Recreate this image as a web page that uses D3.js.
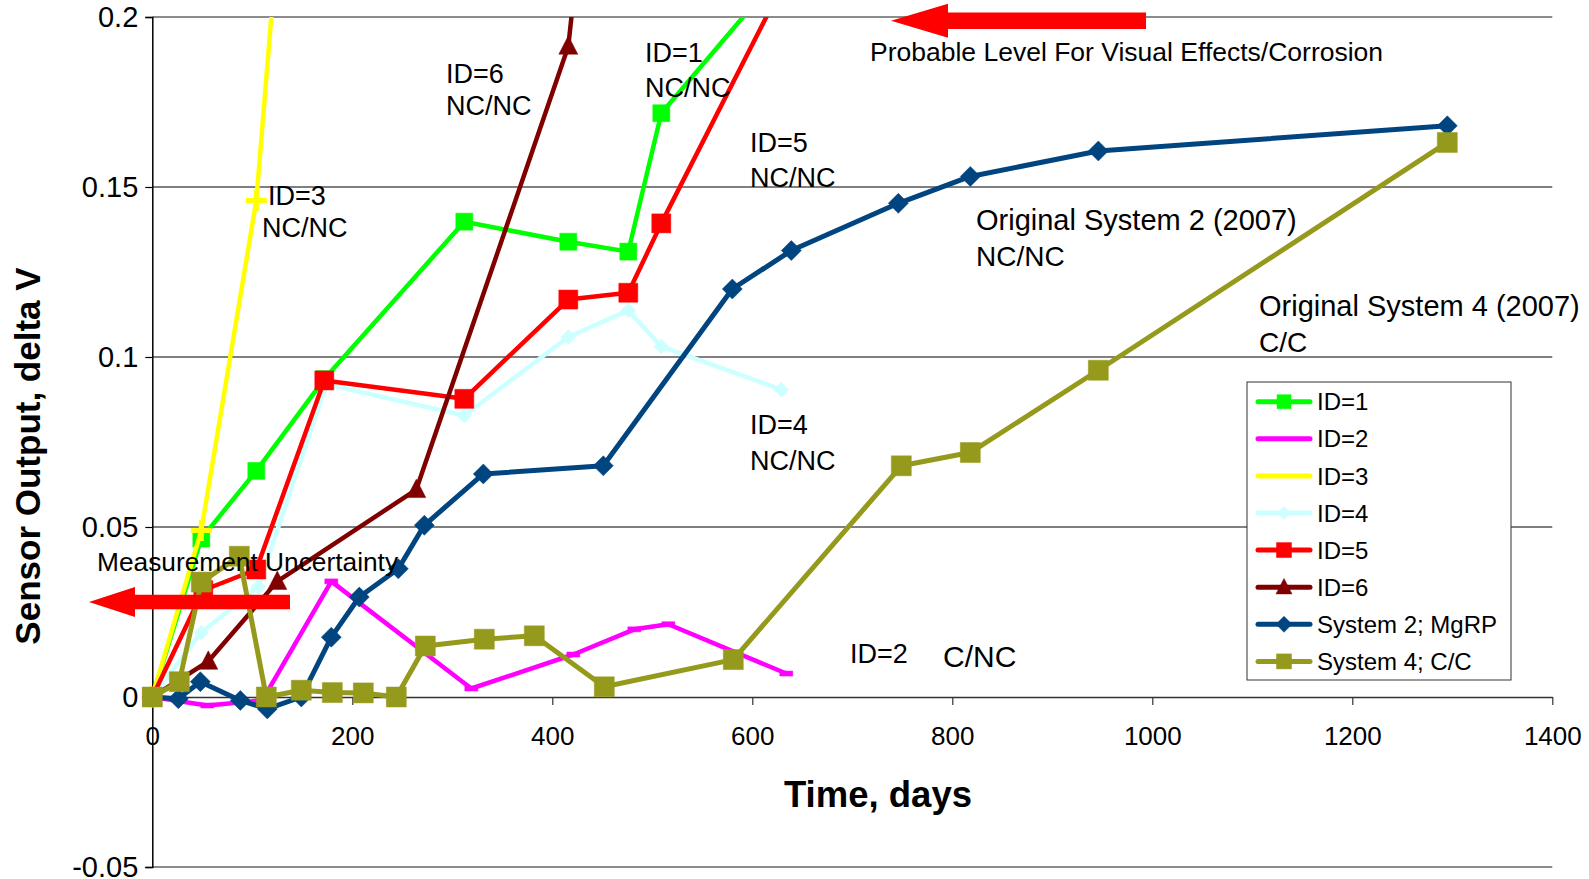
<!DOCTYPE html>
<html><head><meta charset="utf-8">
<script src="https://cdn.jsdelivr.net/npm/d3@7"></script>
<style>
body{margin:0;background:#fff}
svg{display:block}
text{font-family:"Liberation Sans",Arial,Helvetica,sans-serif;fill:#000}
</style>
</head><body>
<svg id="chart" width="1589" height="879"></svg>
<script>
// ---------------- DATA ----------------
const seriesNames = ["ID=1","ID=2","ID=3","ID=4","ID=5","ID=6","System 2; MgRP","System 4; C/C"];

const id1Days = [0,49,104,172,312,416,476,509,620];
const id1Vals = [0,0.0466,0.0665,0.0935,0.1398,0.1339,0.131,0.1717,0.2101];

const id2Days = [0,55,110,179,319,421,482,516,634];
const id2Vals = [0,-0.0025,-0.001,0.034,0.0025,0.0125,0.0199,0.0214,0.0069];

const id3Days = [0,49,104,130];
const id3Vals = [0,0.049,0.146,0.2396];

const id4Days = [0,49,106,174,312,416,476,509,629];
const id4Vals = [0,0.019,0.0324,0.092,0.0828,0.1059,0.1137,0.1031,0.0904];

const id5Days = [0,51,104,172,312,416,476,509,640];
const id5Vals = [0,0.0314,0.0375,0.0931,0.0877,0.1169,0.1189,0.1393,0.215];

const id6Days = [0,56,125,264,416,426];
const id6Vals = [0,0.0105,0.034,0.061,0.1914,0.2187];

const sys2Days = [0,26,48,88,115,149,179,207,246,272,331,451,580,639,746,818,946,1295];
const sys2Vals = [0,-0.0005,0.0045,-0.001,-0.0035,0,0.0176,0.0294,0.0377,0.0505,0.0656,0.068,0.12,0.1313,0.1452,0.1531,0.1606,0.168];

const sys4Days = [0,27,49,87,114,149,180,211,244,273,332,382,452,581,749,818,946,1295];
const sys4Vals = [0,0.0045,0.0338,0.0414,0,0.002,0.0013,0.0012,0,0.015,0.017,0.018,0.003,0.011,0.068,0.0719,0.0961,0.1631];

const xTickValues = [0,200,400,600,800,1000,1200,1400];
const xTickLabels = ["0","200","400","600","800","1000","1200","1400"];
const yTickValues = [-0.05,0,0.05,0.1,0.15,0.2];
const yTickLabels = ["-0.05","0","0.05","0.1","0.15","0.2"];

const xTitle = "Time, days";
const yTitle = "Sensor Output, delta V";

// ---------------- LAYOUT / STYLE ----------------
const W = 1589, H = 879;
const plot = {left:152.3, right:1552.3, top:17, bottom:867};
const FONT = '"Liberation Sans",Arial,Helvetica,sans-serif';

const styles = [
  {color:"#00FF00", width:4.5, marker:"square", size:17, legendMarker:true, lsize:14},
  {color:"#FF00FF", width:4.5, marker:"dash", size:13, legendMarker:false},
  {color:"#FFFF00", width:4.5, marker:"plus", size:21, legendMarker:false},
  {color:"#CCFFFF", width:4.5, marker:"diamond", size:15, legendMarker:true, lsize:13},
  {color:"#FF0000", width:4.5, marker:"square", size:19, legendMarker:true, lsize:15},
  {color:"#800000", width:4.5, marker:"triangle", size:19, legendMarker:true, lsize:16},
  {color:"#004480", width:5, marker:"diamond", size:20, legendMarker:true, lsize:16},
  {color:"#969A1C", width:5, marker:"square", size:20, legendMarker:true, lsize:15}
];

const svg = d3.select("#chart");
svg.append("rect").attr("width",W).attr("height",H).attr("fill","#fff");

const x = d3.scaleLinear().domain([0,1400]).range([plot.left, plot.right]);
const y = d3.scaleLinear().domain([-0.05,0.2]).range([plot.bottom, plot.top]);

const seriesData = [
  d3.zip(id1Days,id1Vals), d3.zip(id2Days,id2Vals), d3.zip(id3Days,id3Vals),
  d3.zip(id4Days,id4Vals), d3.zip(id5Days,id5Vals), d3.zip(id6Days,id6Vals),
  d3.zip(sys2Days,sys2Vals), d3.zip(sys4Days,sys4Vals)
];

// clip
svg.append("defs").append("clipPath").attr("id","clip")
  .append("rect").attr("x",plot.left-12).attr("y",plot.top)
  .attr("width",plot.right-plot.left+12).attr("height",plot.bottom-plot.top);

// gridlines
const grid = svg.append("g");
[0.05,0.1,0.15].forEach(v=>{
  grid.append("line").attr("x1",plot.left).attr("x2",plot.right)
    .attr("y1",y(v)).attr("y2",y(v)).attr("stroke","#000").attr("stroke-width",1);
});
[0.2,-0.05].forEach(v=>{
  grid.append("line").attr("x1",plot.left).attr("x2",plot.right)
    .attr("y1",y(v)).attr("y2",y(v)).attr("stroke","#8c8c8c").attr("stroke-width",2);
});

// y axis
const yAxis = d3.axisLeft(y).tickValues(yTickValues)
  .tickFormat((d,i)=>yTickLabels[i]).tickSize(7).tickPadding(7);
const gy = svg.append("g").attr("transform",`translate(${plot.left},0)`).call(yAxis);
gy.select(".domain").attr("stroke","#000").attr("stroke-width",1.5);
gy.selectAll(".tick line").attr("stroke","#000").attr("stroke-width",1.2);
gy.selectAll(".tick text").attr("font-family",FONT).attr("font-size",29).attr("fill","#000");

// x axis at y=0
const xAxis = d3.axisBottom(x).tickValues(xTickValues)
  .tickFormat((d,i)=>xTickLabels[i]).tickSize(8).tickPadding(22).tickSizeOuter(0);
const gx = svg.append("g").attr("transform",`translate(0,${y(0)})`).call(xAxis);
gx.select(".domain").attr("stroke","#333").attr("stroke-width",1.5);
gx.selectAll(".tick line").attr("stroke","#333").attr("stroke-width",1.2);
gx.selectAll(".tick text").attr("font-family",FONT).attr("font-size",26).attr("fill","#000");

// axis titles
svg.append("text").attr("x",878).attr("y",807).attr("text-anchor","middle")
  .attr("font-size",36.5).attr("font-weight","bold").text(xTitle);
svg.append("text").attr("transform","translate(40,456) rotate(-90)")
  .attr("text-anchor","middle").attr("font-size",35).attr("font-weight","bold").text(yTitle);

// marker paths
function markerPath(type,s){
  const h=s/2;
  if(type==="square") return `M${-h},${-h}h${s}v${s}h${-s}Z`;
  if(type==="diamond") return `M0,${-h}L${h},0L0,${h}L${-h},0Z`;
  if(type==="triangle") return `M0,${-s*0.55}L${h},${s*0.42}L${-h},${s*0.42}Z`;
  if(type==="dash") return `M${-h},-2.5h${s}v5h${-s}Z`;
  return "";
}
function drawMarker(g,type,s,color,cx,cy){
  if(type==="plus"){
    g.append("path").attr("d",`M${cx-s/2},${cy}H${cx+s/2}M${cx},${cy-s/2}V${cy+s/2}`)
      .attr("stroke",color).attr("stroke-width",5).attr("fill","none");
  } else {
    g.append("path").attr("d",markerPath(type,s)).attr("transform",`translate(${cx},${cy})`)
      .attr("fill",color).attr("stroke",color).attr("stroke-width",0.5);
  }
}

// series
const line = d3.line().x(d=>x(d[0])).y(d=>y(d[1]));
seriesData.forEach((data,i)=>{
  const st = styles[i];
  const g = svg.append("g");
  g.append("path").datum(data).attr("d",line).attr("fill","none")
    .attr("stroke",st.color).attr("stroke-width",st.width)
    .attr("stroke-linejoin","round").attr("clip-path","url(#clip)");
  data.forEach(d=>{
    if(d[1] <= 0.2) drawMarker(g,st.marker,st.size,st.color,x(d[0]),y(d[1]));
  });
});

// annotations
const annos = [
  ["ID=3",268,205,27],["NC/NC",262,237,27],
  ["ID=6",446,83,27],["NC/NC",446,115,27],
  ["ID=1",645,62,27],["NC/NC",645,97,27],
  ["ID=5",750,152,27],["NC/NC",750,187,27],
  ["ID=4",750,434,27],["NC/NC",750,470,27],
  ["Original System 2 (2007)",976,230,29],["NC/NC",976,266,28],
  ["Original System 4 (2007)",1259,316,29],["C/C",1259,352,28],
  ["ID=2",850,663,27],["C/NC",943,667,30],
  ["Probable Level For Visual Effects/Corrosion",870,61,26.5],
  ["Measurement Uncertainty",97,571,26.3]
];
annos.forEach(a=>{
  svg.append("text").attr("x",a[1]).attr("y",a[2]).attr("font-size",a[3]).text(a[0]);
});

// red arrows
function arrow(tipX,tipY,headLen,headHalf,shaftHalf,endX){
  const bx=tipX+headLen;
  return `M${tipX},${tipY}L${bx},${tipY-headHalf}L${bx},${tipY-shaftHalf}L${endX},${tipY-shaftHalf}L${endX},${tipY+shaftHalf}L${bx},${tipY+shaftHalf}L${bx},${tipY+headHalf}Z`;
}
svg.append("path").attr("d",arrow(891,20.7,57,17,8.3,1146)).attr("fill","#FF0000");
svg.append("path").attr("d",arrow(89,602,46,15,7.3,290)).attr("fill","#FF0000");

// legend
const lg = svg.append("g");
lg.append("rect").attr("x",1247).attr("y",382).attr("width",264).attr("height",298)
  .attr("fill","#fff").attr("stroke","#333").attr("stroke-width",1);
seriesNames.forEach((name,i)=>{
  const st=styles[i];
  const cy = 401.7 + i*37.1;
  lg.append("line").attr("x1",1258).attr("x2",1310).attr("y1",cy).attr("y2",cy)
    .attr("stroke",st.color).attr("stroke-width",5).attr("stroke-linecap","round");
  if(st.legendMarker) drawMarker(lg,st.marker,st.lsize,st.color,1284,cy);
  lg.append("text").attr("x",1317).attr("y",cy).attr("dy","0.36em")
    .attr("font-size",24).text(name);
});
</script>
</body></html>
